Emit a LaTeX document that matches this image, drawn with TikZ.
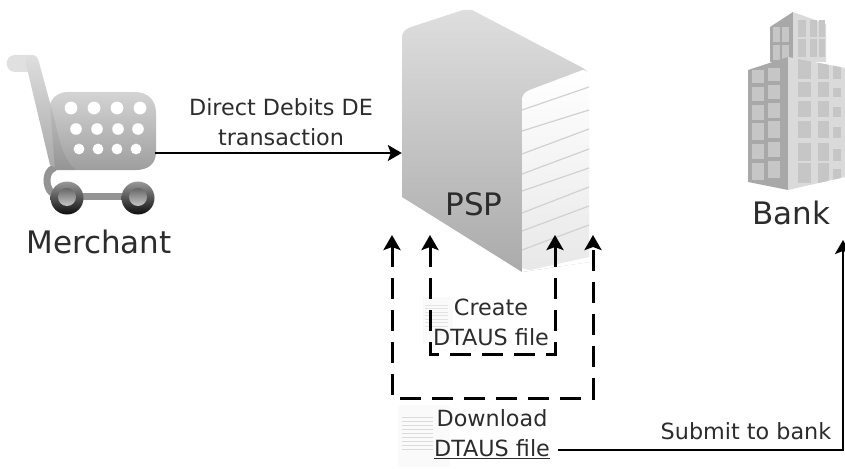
\documentclass[tikz,border=0pt]{standalone}
\usepackage{fontspec}
\setmainfont{DejaVu Sans}
\usetikzlibrary{arrows.meta}
\definecolor{ink}{HTML}{2C2C2C}
\definecolor{bankdark}{HTML}{A8A8A8}
\definecolor{banklight}{HTML}{DADADA}
\definecolor{bankwin}{HTML}{C6C6C6}
\tikzset{
  x=1pt,y=-1pt,
  lbl/.style={inner sep=0pt,text=ink,align=center,font=\fontsize{22.3}{30}\selectfont},
  biglbl/.style={inner sep=0pt,text=ink,font=\fontsize{31}{34}\selectfont},
  flow/.style={line width=2pt,draw=black,-{Stealth[length=14pt,width=16pt,inset=3pt]}},
  dashflow/.style={line width=3pt,draw=black,dash pattern=on 21pt off 11pt,{Stealth[length=15pt,width=17pt,inset=3pt]}-{Stealth[length=15pt,width=17pt,inset=3pt]}},
  anchorbox/.style={inner sep=0pt,minimum size=0pt},
  hole/.style={fill=white},
  sheetline/.style={draw=black!18,line width=1.2pt},
}
\begin{document}
\begin{tikzpicture}
\useasboundingbox (0,0) rectangle (845,468);
% --- cart
\draw[line width=7pt,draw=black!42,line cap=round] (54,168) .. controls (45,171) and (45,187) .. (52,193);
\fill[black!12] (15,55) -- (30,55) -- (30,72) -- (15,72) .. controls (4,72) and (4,55) .. (15,55) -- cycle;
\shade[top color=black!13,bottom color=black!34]
  (32,55) .. controls (36,55) and (38,58) .. (39,62) -- (50,103) -- (60,170) -- (50,165) -- (26,64) .. controls (25,58) and (28,55) .. (32,55) -- cycle;
\shade[top color=black!17,bottom color=black!38]
  (68,92) -- (134,92) .. controls (148,92) and (156,100) .. (156,113) -- (156,152) .. controls (156,164) and (148,170) .. (136,170) -- (55,170) -- (50,104) .. controls (53,96) and (60,92) .. (68,92) -- cycle;
\fill[black,opacity=.06] (50,104) .. controls (58,125) and (58,155) .. (76,170) -- (55,170) -- cycle;
\foreach \px/\py/\pr in {71/108/6.4,94/108/6.4,117/108/6.4,140/108/6.4,76/129/5.8,97/129/5.8,118/129/5.8,138/129/5.8,79/149/5.4,98/149/5.4,117/149/5.4,136/149/5.4}
  \fill[hole] (\px,\py) circle (\pr);
\draw[line width=7pt,draw=black!42] (67,196) -- (138,196);
\foreach \wx in {67,138} {
  \shade[top color=black!40,bottom color=black!95] (\wx,198) circle (16.5);
  \shade[top color=black!60,bottom color=black!22] (\wx,197) circle (9);
}
\node[anchorbox] (cartout) at (155,153) {};
\node[biglbl] (merchant) at (99,242) {Merchant};
% --- server
\shade[top color=black!13,middle color=black!17,bottom color=black!33]
  (402,38) .. controls (402,32) and (405,29) .. (411,27) -- (463,10) -- (472,10) -- (583,68) -- (589,73) -- (589,262) -- (522,272) -- (402,197) -- cycle;
\fill[white] (522,101) .. controls (522,95) and (525,92) .. (530,90) -- (583,70) -- (590,73) -- (590,262) -- (522,272) -- cycle;
\shade[top color=white,bottom color=black!9]
  (522,101) .. controls (522,95) and (525,92) .. (530,90) -- (583,70) -- (589,73) -- (589,257) -- (530,270) -- (522,268) -- cycle;
\foreach \sy/\ey in {110/87,131/110,154/129,174/149,191/168,213/187,231/206,250/225}
  \draw[sheetline] (522,\sy) -- (589,\ey);
\node[anchorbox] (pspin) at (402,153) {};
\node[biglbl] (psp) at (474,204) {PSP};
% --- bank
\fill[bankdark] (770,27) -- (793,12) -- (793,62) -- (770,62) -- cycle;
\fill[banklight] (793,12) -- (826,24) -- (826,62) -- (793,62) -- cycle;
\foreach \cx in {773,782} \foreach \cy/\hh in {27/15,45/15} \fill[bankwin] (\cx,\cy) rectangle ++(6.5,\hh);
\foreach \cx/\ww in {798/8,810/7,819/6} \foreach \cy/\hh in {20/17,39/18} \fill[bankwin] (\cx,\cy) rectangle ++(\ww,\hh);
\fill[bankdark] (748,70) -- (788,57) -- (788,190) -- (748,182) -- cycle;
\fill[banklight] (788,57) -- (845,68) -- (845,177) -- (788,190) -- cycle;
\begin{scope}
\clip (748,70) -- (788,57) -- (788,190) -- (748,182) -- cycle;
\foreach \cy/\hh in {70/13,87/14,105/15,123/17,144/15,163/17} {
  \fill[bankwin] (752,\cy) rectangle ++(12,\hh);
  \fill[bankwin] (768,\cy-2) rectangle ++(12,\hh);
}
\end{scope}
\begin{scope}
\clip (788,57) -- (845,68) -- (845,177) -- (788,190) -- cycle;
\foreach \cy/\hh in {58/21,82/15,101/16,121/17,143/18,163/20} {
  \fill[bankwin] (798,\cy) rectangle ++(13,\hh);
  \fill[bankwin] (818,\cy) rectangle ++(11,\hh);
  \fill[bankwin] (833,\cy+6) rectangle ++(8,\hh-6);
}
\end{scope}
\node[biglbl] (bank) at (791,213) {Bank};
% --- documents
\fill[black!2] (423,297) rectangle (453,343);
\foreach \ly in {305,308.5,...,327} \draw[draw=black!11,line width=.8pt] (425,\ly) -- (448,\ly);
\fill[black!2] (398,405) rectangle (450,467);
\foreach \ly in {417,421,...,452} \draw[draw=black!14,line width=.8pt] (402,\ly) -- (433,\ly);
% --- labels
\node[lbl] (ddlabel) at (281,122) {Direct Debits DE\\transaction};
\node[lbl] (createlabel) at (491,322) {Create\\DTAUS file};
\node[lbl] (downloadlabel) at (492,434) {Download\\\underline{DTAUS file}};
\node[lbl] (submitlabel) at (746,431) {Submit to bank};
% --- connector anchors
\coordinate (oa) at (392,235);
\coordinate (ob) at (593,235);
\coordinate (ia) at (430,235);
\coordinate (ib) at (555,235);
\coordinate (obl) at (392,398);
\coordinate (obr) at (593,398);
\coordinate (ibl) at (430,354);
\coordinate (ibr) at (555,354);
\coordinate (fileout) at (558,450);
\coordinate (bankcorner) at (843,450);
\coordinate (bankin) at (843,240);
% --- connectors
\draw[flow] (cartout) -- (pspin);
\draw[dashflow] (oa) -- (obl) -- (obr) -- (ob);
\draw[dashflow] (ia) -- (ibl) -- (ibr) -- (ib);
\draw[flow] (fileout) -- (bankcorner) -- (bankin);
\end{tikzpicture}
\end{document}
